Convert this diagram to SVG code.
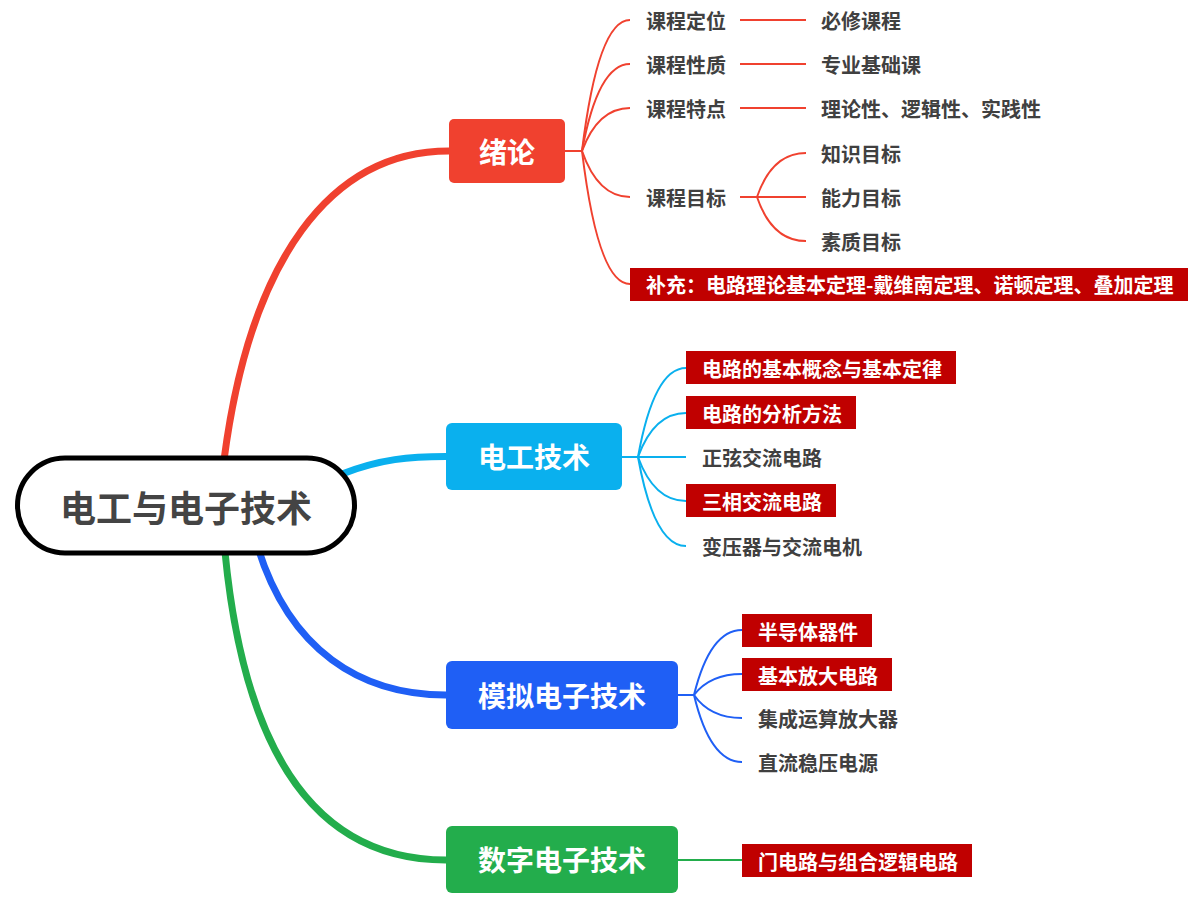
<svg xmlns="http://www.w3.org/2000/svg" width="1199" height="905" viewBox="0 0 1199 905">
<style>
text{font-family:"Noto Sans CJK SC","Liberation Sans",sans-serif;font-weight:bold}
.t{font-size:20px;fill:#404040}
.w{font-size:20px;fill:#ffffff}
.b{font-size:28px;fill:#ffffff;text-anchor:middle}
.hl{fill:#c00000}
.main{fill:none;stroke-width:7;stroke-linecap:round}
.sub{fill:none;stroke-width:2}
.r{stroke:#f0412f}.c{stroke:#0ab0ee}.u{stroke:#1f5ff5}.g{stroke:#23ad4c}
</style>
<rect width="1199" height="905" fill="#ffffff"/>
<g id="connectors">
<path class="main r" d="M224,460 C250,260 330,151 449,151"/>
<path class="main c" d="M342,474 C380,459 410,456.5 446,456.5"/>
<path class="main u" d="M258,548 C290,650 360,695 446,695"/>
<path class="main g" d="M225,552 C245,760 320,860 446,860"/>
<g class="sub r">
<path d="M565,151 L582,151"/>
<path d="M582,151 Q598,20 630,20"/>
<path d="M582,151 Q598,64 630,64"/>
<path d="M582,151 Q598,108 630,108"/>
<path d="M582,151 Q598,197 630,197"/>
<path d="M582,151 Q598,284 630,284"/>
<path d="M740,20 L806,20"/>
<path d="M740,64 L806,64"/>
<path d="M740,108 L806,108"/>
<path d="M740,197 L757,197"/>
<path d="M757,197 Q772,153 806,153"/>
<path d="M757,197 L806,197"/>
<path d="M757,197 Q772,241 806,241"/>
</g>
<g class="sub c">
<path d="M622,457 L638,457"/>
<path d="M638,457 Q654,368 686,368"/>
<path d="M638,457 Q654,413 686,413"/>
<path d="M638,457 L686,457"/>
<path d="M638,457 Q654,501 686,501"/>
<path d="M638,457 Q654,546 686,546"/>
</g>
<g class="sub u">
<path d="M678,695 L694,695"/>
<path d="M694,695 Q710,630 742,630"/>
<path d="M694,695 Q710,674 742,674"/>
<path d="M694,695 Q710,718 742,718"/>
<path d="M694,695 Q710,762 742,762"/>
</g>
<g class="sub g">
<path d="M678,860 L742,860"/>
</g>
</g>
<g id="root">
<rect x="17.5" y="458" width="337" height="95" rx="47.5" fill="#ffffff" stroke="#000000" stroke-width="5"/>
<text x="186" y="522" font-size="36" fill="#444444" text-anchor="middle">电工与电子技术</text>
</g>
<g id="n-xulun">
<rect x="449" y="119" width="116" height="64" rx="5" fill="#f0412f"/>
<text class="b" x="507" y="162.5">绪论</text>
</g>
<g id="n-diangong">
<rect x="446" y="423" width="176" height="67" rx="6" fill="#0ab0ee"/>
<text class="b" x="534" y="467.5">电工技术</text>
</g>
<g id="n-moni">
<rect x="446" y="661" width="232" height="68" rx="6" fill="#1f5ff5"/>
<text class="b" x="562" y="706.5">模拟电子技术</text>
</g>
<g id="n-shuzi">
<rect x="446" y="826" width="232" height="67" rx="6" fill="#23ad4c"/>
<text class="b" x="562" y="870.5">数字电子技术</text>
</g>
<g id="n-dingwei"><text class="t" x="646" y="28.5">课程定位</text></g>
<g id="n-xingzhi"><text class="t" x="646" y="72.5">课程性质</text></g>
<g id="n-tedian"><text class="t" x="646" y="116.5">课程特点</text></g>
<g id="n-mubiao"><text class="t" x="646" y="205.5">课程目标</text></g>
<g id="n-bixiu"><text class="t" x="821" y="28.5">必修课程</text></g>
<g id="n-zhuanye"><text class="t" x="821" y="72.5">专业基础课</text></g>
<g id="n-lilun"><text class="t" x="821" y="116.5">理论性、逻辑性、实践性</text></g>
<g id="n-zhishi"><text class="t" x="821" y="161.5">知识目标</text></g>
<g id="n-nengli"><text class="t" x="821" y="205.5">能力目标</text></g>
<g id="n-suzhi"><text class="t" x="821" y="249.5">素质目标</text></g>
<g id="n-buchong">
<rect class="hl" x="630" y="268" width="558" height="33"/>
<text class="w" x="646" y="292.5">补充：电路理论基本定理-戴维南定理、诺顿定理、叠加定理</text>
</g>
<g id="n-jiben">
<rect class="hl" x="686" y="351" width="270" height="33"/>
<text class="w" x="702" y="376.5">电路的基本概念与基本定律</text>
</g>
<g id="n-fenxi">
<rect class="hl" x="686" y="396" width="170" height="33"/>
<text class="w" x="702" y="421.5">电路的分析方法</text>
</g>
<g id="n-zhengxian"><text class="t" x="702" y="465.5">正弦交流电路</text></g>
<g id="n-sanxiang">
<rect class="hl" x="686" y="484" width="150" height="33"/>
<text class="w" x="702" y="509.5">三相交流电路</text>
</g>
<g id="n-bianyaqi"><text class="t" x="702" y="554.5">变压器与交流电机</text></g>
<g id="n-bandaoti">
<rect class="hl" x="742" y="614" width="130" height="33"/>
<text class="w" x="758" y="639.5">半导体器件</text>
</g>
<g id="n-fangda">
<rect class="hl" x="742" y="658" width="150" height="33"/>
<text class="w" x="758" y="683.5">基本放大电路</text>
</g>
<g id="n-jicheng"><text class="t" x="758" y="726.5">集成运算放大器</text></g>
<g id="n-wenya"><text class="t" x="758" y="770.5">直流稳压电源</text></g>
<g id="n-men">
<rect class="hl" x="742" y="844" width="230" height="33"/>
<text class="w" x="758" y="869.5">门电路与组合逻辑电路</text>
</g>
</svg>
